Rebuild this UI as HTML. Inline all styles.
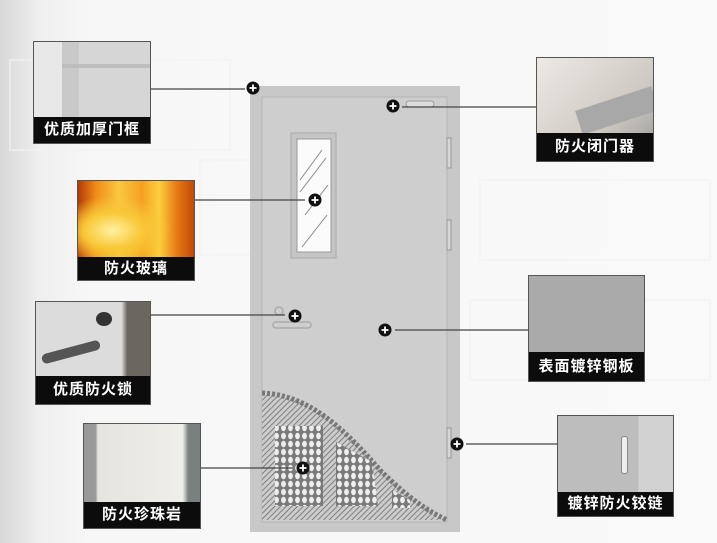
<!DOCTYPE html>
<html><head><meta charset="utf-8"><style>
*{margin:0;padding:0;box-sizing:border-box}
body{width:717px;height:543px;overflow:hidden;position:relative;background:linear-gradient(90deg,#d8d8d8 0px,#efefef 40px,#f7f7f7 90px,#f9f9f9 100%);font-family:"Liberation Sans","Noto Sans CJK SC",sans-serif}
.p{position:absolute;border:1px solid #555;overflow:hidden}
.cap{position:absolute;left:0;right:0;bottom:0;background:#0c0c0c;color:#fff;font-weight:bold;font-size:15px;text-align:center;letter-spacing:1px}
svg{position:absolute;left:0;top:0}
</style></head><body>
<svg width="717" height="543">
<g stroke="#f2f2f2" stroke-width="2" fill="none" opacity=".6">
<rect x="10" y="60" width="220" height="90"/><rect x="200" y="160" width="180" height="95"/>
<rect x="480" y="180" width="230" height="80"/><rect x="470" y="300" width="240" height="80"/>
</g>
<rect x="250" y="86" width="210" height="446" fill="#c8c8c8"/>
<rect x="262" y="97" width="185" height="425" fill="#cecece" stroke="#b5b5b5"/>
<defs>
<pattern id="mesh" width="7" height="8" patternUnits="userSpaceOnUse"><rect width="7" height="8" fill="#7a7a7a"/><ellipse cx="3.5" cy="4" rx="2.4" ry="3.2" fill="#eee"/></pattern>
<pattern id="hatch" width="4" height="4" patternUnits="userSpaceOnUse" patternTransform="rotate(45)"><rect width="4" height="4" fill="#ccc"/><line x1="0" y1="0" x2="0" y2="4" stroke="#666" stroke-width="1.5"/></pattern>
</defs>
<path d="M262 393 C310 395 345 430 380 470 C410 500 430 512 447 520 L262 520 Z" fill="url(#hatch)"/>
<path d="M262 393 C310 395 345 430 380 470 C410 500 430 512 447 520" fill="none" stroke="#777" stroke-width="5" stroke-dasharray="3 2"/>
<rect x="275" y="426" width="48" height="80" fill="url(#mesh)"/>
<path d="M336 442 L372 462 L378 506 L336 506 Z" fill="url(#mesh)"/>
<path d="M392 490 L410 500 L410 508 L392 508 Z" fill="url(#mesh)"/>
<rect x="291" y="133" width="45" height="125" fill="#c5c5c5" stroke="#aaa"/>
<rect x="297" y="139" width="34" height="113" fill="#fbfbfb" stroke="#999"/>
<g stroke="#888" stroke-width="1"><line x1="300" y1="180" x2="322" y2="150"/><line x1="300" y1="192" x2="326" y2="158"/><line x1="305" y1="215" x2="328" y2="185"/><line x1="302" y1="247" x2="327" y2="215"/></g>
<rect x="406" y="101" width="28" height="6" rx="3" fill="#ddd" stroke="#999"/>
<g fill="#d6d6d6" stroke="#999"><rect x="447" y="138" width="4" height="30"/><rect x="447" y="220" width="4" height="30"/><rect x="447" y="428" width="4" height="30"/></g>
<circle cx="279" cy="311" r="4" fill="none" stroke="#aaa" stroke-width="1.5"/>
<rect x="273" y="322" width="38" height="6" rx="3" fill="none" stroke="#aaa" stroke-width="1.5"/>
<g stroke="#444" stroke-width="1.3">
<line x1="151" y1="89" x2="245" y2="89"/><line x1="195" y1="200" x2="305" y2="200"/>
<line x1="151" y1="315" x2="285" y2="315"/><line x1="201" y1="468" x2="293" y2="468"/>
<line x1="402" y1="107" x2="536" y2="107"/><line x1="395" y1="330" x2="528" y2="330"/>
<line x1="466" y1="444" x2="557" y2="444"/>
</g>
<g>
<g transform="translate(253,88)"><circle r="6.5" fill="#111"/><path d="M-3.5 0H3.5M0 -3.5V3.5" stroke="#fff" stroke-width="1.8"/></g>
<g transform="translate(393,106)"><circle r="6.5" fill="#111"/><path d="M-3.5 0H3.5M0 -3.5V3.5" stroke="#fff" stroke-width="1.8"/></g>
<g transform="translate(315,200)"><circle r="6.5" fill="#111"/><path d="M-3.5 0H3.5M0 -3.5V3.5" stroke="#fff" stroke-width="1.8"/></g>
<g transform="translate(295,316)"><circle r="6.5" fill="#111"/><path d="M-3.5 0H3.5M0 -3.5V3.5" stroke="#fff" stroke-width="1.8"/></g>
<g transform="translate(385,330)"><circle r="6.5" fill="#111"/><path d="M-3.5 0H3.5M0 -3.5V3.5" stroke="#fff" stroke-width="1.8"/></g>
<g transform="translate(303,468)"><circle r="6.5" fill="#111"/><path d="M-3.5 0H3.5M0 -3.5V3.5" stroke="#fff" stroke-width="1.8"/></g>
<g transform="translate(457,444)"><circle r="6.5" fill="#111"/><path d="M-3.5 0H3.5M0 -3.5V3.5" stroke="#fff" stroke-width="1.8"/></g>
</g>
</svg>

<div class="p" style="left:33px;top:41px;width:118px;height:103px;background:linear-gradient(90deg,#e8e8e8 0 28px,#c9c9c9 28px 45px,#d6d6d6 45px)"><div style="position:absolute;left:28px;top:22px;right:0;height:4px;background:#bdbdbd"></div><div class="cap" style="height:26px;line-height:26px">优质加厚门框</div></div>

<div class="p" style="left:77px;top:180px;width:118px;height:101px;background:radial-gradient(ellipse at 30% 50%,#fff2a0 0,#f8c838 25%,transparent 50%),linear-gradient(90deg,#b03a08,#f08a18 15%,#f9c840 35%,#f5a020 55%,#fbd040 70%,#e87a14 85%,#c04a08)"><div class="cap" style="height:23px;line-height:23px">防火玻璃</div></div>

<div class="p" style="left:35px;top:301px;width:116px;height:104px;background:linear-gradient(90deg,#dcdcdc 0 75%,#6a6660 80%)"><div style="position:absolute;left:60px;top:10px;width:16px;height:14px;border-radius:50%;background:#333"></div><div style="position:absolute;left:5px;top:45px;width:60px;height:10px;border-radius:5px;background:#555;transform:rotate(-15deg)"></div><div class="cap" style="height:28px;line-height:28px">优质防火锁</div></div>

<div class="p" style="left:83px;top:423px;width:118px;height:106px;background:linear-gradient(90deg,#999 0 10%,#e6e4df 12%,#f0eeea 85%,#7a8080 90%)"><div class="cap" style="height:26px;line-height:26px">防火珍珠岩</div></div>

<div class="p" style="left:536px;top:57px;width:118px;height:105px;background:linear-gradient(135deg,#ede9e4,#cfcac4 60%,#9a9a9a)"><div style="position:absolute;left:40px;top:40px;width:80px;height:25px;background:#a8a8a8;transform:rotate(-18deg)"></div><div class="cap" style="height:28px;line-height:28px">防火闭门器</div></div>

<div class="p" style="left:528px;top:275px;width:117px;height:107px;background:#aaa"><div class="cap" style="height:29px;line-height:29px">表面镀锌钢板</div></div>

<div class="p" style="left:557px;top:415px;width:117px;height:102px;background:linear-gradient(90deg,#bdbdbd 0 70%,#d2d2d2 70%)"><div style="position:absolute;left:63px;top:20px;width:7px;height:38px;border-radius:3px;background:#eee;border:1px solid #888"></div><div class="cap" style="height:24px;line-height:24px">镀锌防火铰链</div></div>
</body></html>
